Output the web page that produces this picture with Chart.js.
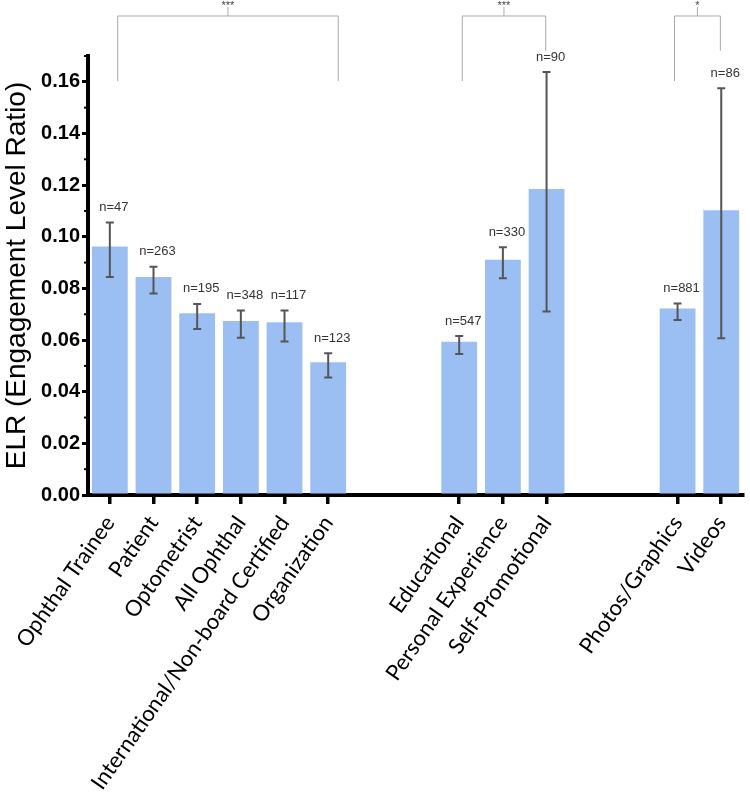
<!DOCTYPE html>
<html>
<head>
<meta charset="utf-8">
<script src="https://cdn.jsdelivr.net/npm/chart.js@4.4.1/dist/chart.umd.min.js"></script>
<style>
  html, body { margin: 0; padding: 0; background: #fff; }
  #wrap { width: 750px; height: 805px; }
</style>
</head>
<body>
<div id="wrap"><canvas id="elrChart" width="750" height="805"></canvas></div>
<script>
// categories ('' = spacer between groups)
const categories = [
  'Ophthal Trainee', 'Patient', 'Optometrist', 'All Ophthal',
  'International/Non-board Certified', 'Organization', '', '',
  'Educational', 'Personal Experience', 'Self-Promotional', '', '',
  'Photos/Graphics', 'Videos'
];
const elrMean = [0.0962, 0.0844, 0.0704, 0.0674, 0.0669, 0.0514, null, null,
  0.0593, 0.0911, 0.1185, null, null, 0.0722, 0.1103];
const errHigh = [0.1055, 0.0884, 0.0740, 0.0714, 0.0714, 0.0549, null, null,
  0.0616, 0.0959, 0.1638, null, null, 0.0742, 0.1575];
const errLow = [0.0844, 0.0780, 0.0643, 0.0609, 0.0594, 0.0455, null, null,
  0.0546, 0.0839, 0.0711, null, null, 0.0678, 0.0607];
const sampleSize = ['n=47', 'n=263', 'n=195', 'n=348', 'n=117', 'n=123', '', '',
  'n=547', 'n=330', 'n=90', '', '', 'n=881', 'n=86'];
const yTicks = [0, 0.02, 0.04, 0.06, 0.08, 0.10, 0.12, 0.14, 0.16];
const yMinorTicks = [0.01, 0.03, 0.05, 0.07, 0.09, 0.11, 0.13, 0.15, 0.17];
// significance brackets: [from (category pos), to, left leg end, right leg end, label]
const brackets = [
  [0.18, 5.23, 0.1603, 0.1603, '***'],
  [8.07, 9.98, 0.1603, 0.1720, '***'],
  [12.93, 13.98, 0.1603, 0.1720, '*']
];
const bracketTop = 0.1855;
const bracketTick = 0.1890;

// error bars, n labels, brackets, minor ticks
const extras = {
  id: 'extras',
  afterDatasetsDraw(chart) {
    const ctx = chart.ctx;
    const x = chart.scales.x, y = chart.scales.y;
    ctx.save();

    // error bars
    ctx.strokeStyle = '#555';
    ctx.lineWidth = 2;
    elrMean.forEach((v, i) => {
      if (v === null) return;
      const cx = x.getPixelForValue(i);
      const hi = y.getPixelForValue(errHigh[i]);
      const lo = y.getPixelForValue(errLow[i]);
      ctx.beginPath();
      ctx.moveTo(cx, hi); ctx.lineTo(cx, lo);
      ctx.moveTo(cx - 4, hi); ctx.lineTo(cx + 4, hi);
      ctx.moveTo(cx - 4, lo); ctx.lineTo(cx + 4, lo);
      ctx.stroke();
    });

    // n labels
    ctx.fillStyle = '#333';
    ctx.font = '13px "Liberation Sans", Arial, sans-serif';
    ctx.textAlign = 'center';
    ctx.textBaseline = 'middle';
    sampleSize.forEach((s, i) => {
      if (!s) return;
      ctx.fillText(s, x.getPixelForValue(i) + 4, y.getPixelForValue(errHigh[i]) - 15);
    });

    // brackets
    ctx.strokeStyle = '#aaa';
    ctx.lineWidth = 1;
    ctx.fillStyle = '#444';
    ctx.font = '11px "Liberation Sans", Arial, sans-serif';
    brackets.forEach(([a, b, legA, legB, lab]) => {
      const xa = x.getPixelForValue(a), xb = x.getPixelForValue(b);
      const top = y.getPixelForValue(bracketTop);
      const mid = (xa + xb) / 2;
      ctx.beginPath();
      ctx.moveTo(xa, y.getPixelForValue(legA));
      ctx.lineTo(xa, top);
      ctx.lineTo(xb, top);
      ctx.lineTo(xb, y.getPixelForValue(legB));
      ctx.moveTo(mid, top);
      ctx.lineTo(mid, y.getPixelForValue(bracketTick));
      ctx.stroke();
      ctx.fillText(lab, mid, y.getPixelForValue(bracketTick) - 1);
    });

    // minor ticks on y axis
    ctx.strokeStyle = '#000';
    ctx.lineWidth = 2;
    const left = chart.chartArea.left;
    yMinorTicks.forEach(v => {
      const py = y.getPixelForValue(v);
      ctx.beginPath();
      ctx.moveTo(left - 4, py); ctx.lineTo(left, py);
      ctx.stroke();
    });
    ctx.restore();
  }
};

new Chart(document.getElementById('elrChart'), {
  type: 'bar',
  data: {
    labels: categories,
    datasets: [{
      data: elrMean,
      backgroundColor: '#9bbff2',
      borderWidth: 0,
      categoryPercentage: 1,
      barPercentage: 0.82
    }]
  },
  options: {
    responsive: false,
    animation: false,
    layout: { padding: { top: 56, right: 4, left: 0, bottom: 0 } },
    plugins: { legend: { display: false }, tooltip: { enabled: false } },
    scales: {
      x: {
        afterFit: s => { s.height = 310; },
        grid: {
          offset: false,
          drawOnChartArea: false,
          drawTicks: true,
          tickLength: 9,
          lineWidth: 3.5,
          color: c => (categories[c.index] ? '#000' : 'rgba(0,0,0,0)')
        },
        border: { color: '#000', width: 4 },
        ticks: {
          autoSkip: false,
          minRotation: 55,
          maxRotation: 55,
          padding: 7,
          color: '#000',
          font: { family: 'Lato, "Open Sans", sans-serif', size: 22 }
        }
      },
      y: {
        min: 0,
        max: 0.17,
        afterFit: s => { s.width = 88; },
        afterBuildTicks: s => { s.ticks = yTicks.map(v => ({ value: v })); },
        grid: {
          drawOnChartArea: false,
          drawTicks: true,
          tickLength: 6,
          lineWidth: 3,
          color: '#000'
        },
        border: { color: '#000', width: 4 },
        ticks: {
          padding: 2,
          color: '#000',
          font: { family: '"Liberation Sans", Arial, sans-serif', size: 20, weight: 'bold' },
          callback: v => v.toFixed(2)
        },
        title: {
          display: true,
          text: 'ELR (Engagement Level Ratio)',
          color: '#000',
          padding: { top: 0, bottom: 0 },
          font: { family: '"Liberation Sans", Arial, sans-serif', size: 28 }
        }
      }
    }
  },
  plugins: [extras]
});
</script>
</body>
</html>
